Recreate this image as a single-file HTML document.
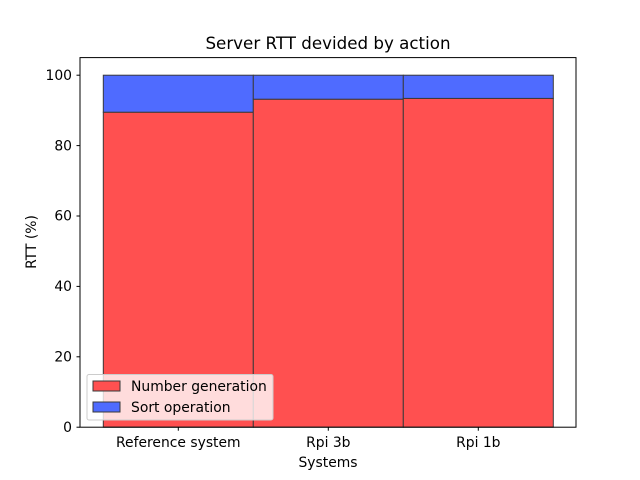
<!DOCTYPE html>
<html><head><style>body{margin:0;background:#fff}svg{display:block}text{font-family:"DejaVu Sans","Liberation Sans",sans-serif;fill:#000}</style></head>
<body>
<svg width="640" height="480" xmlns="http://www.w3.org/2000/svg">
<rect width="640" height="480" fill="#fff"/>
<g stroke="#3a3a3a" stroke-width="1">
<rect x="103.3" y="112.2" width="150" height="315" fill="#ff5050"/>
<rect x="103.3" y="75.2" width="150" height="37" fill="#4f6bff"/>
<rect x="253.3" y="99.2" width="150" height="328" fill="#ff5050"/>
<rect x="253.3" y="75.2" width="150" height="24" fill="#4f6bff"/>
<rect x="403.3" y="98.4" width="150" height="328.8" fill="#ff5050"/>
<rect x="403.3" y="75.2" width="150" height="23.2" fill="#4f6bff"/>
</g>
<rect x="80" y="57.6" width="496" height="369.6" fill="none" stroke="#000" stroke-width="1"/>
<g stroke="#000" stroke-width="1">
<line x1="76.5" y1="427.2" x2="80" y2="427.2"/>
<line x1="76.5" y1="356.8" x2="80" y2="356.8"/>
<line x1="76.5" y1="286.4" x2="80" y2="286.4"/>
<line x1="76.5" y1="216" x2="80" y2="216"/>
<line x1="76.5" y1="145.6" x2="80" y2="145.6"/>
<line x1="76.5" y1="75.2" x2="80" y2="75.2"/>
<line x1="178.3" y1="427.2" x2="178.3" y2="430.7"/>
<line x1="328.3" y1="427.2" x2="328.3" y2="430.7"/>
<line x1="478.3" y1="427.2" x2="478.3" y2="430.7"/>
</g>
<g font-size="13.9" text-anchor="end">
<text x="72" y="432">0</text>
<text x="72" y="361.5">20</text>
<text x="72" y="291">40</text>
<text x="72" y="220.7">60</text>
<text x="72" y="150.3">80</text>
<text x="72" y="80">100</text>
</g>
<g font-size="13.9" text-anchor="middle">
<text x="178.3" y="447">Reference system</text>
<text x="328.3" y="447">Rpi 3b</text>
<text x="478.3" y="447">Rpi 1b</text>
<text x="328" y="467">Systems</text>
<text x="36" y="242" transform="rotate(-90 36 242)">RTT (%)</text>
<text x="328" y="49" font-size="16.7">Server RTT devided by action</text>
</g>
<rect x="87" y="374.5" width="186" height="45.5" rx="2" fill="#fff" fill-opacity="0.8" stroke="#ccc" stroke-width="1"/>
<rect x="93" y="381" width="27" height="10" fill="#ff5050" stroke="#3a3a3a"/>
<rect x="93" y="402" width="27" height="10" fill="#4f6bff" stroke="#3a3a3a"/>
<text x="131" y="391" font-size="13.9">Number generation</text>
<text x="131" y="412" font-size="13.9">Sort operation</text>
</svg>
</body></html>
